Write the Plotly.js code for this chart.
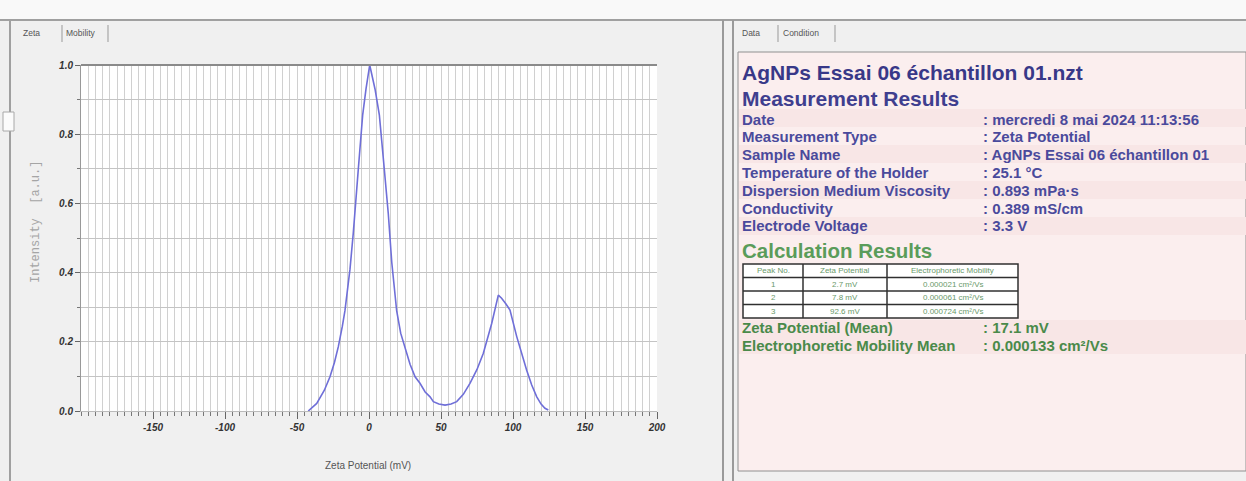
<!DOCTYPE html>
<html>
<head>
<meta charset="utf-8">
<script src="https://cdn.plot.ly/plotly-3.0.1.min.js"></script>
<style>html,body{margin:0;padding:0;background:#f0f0f0;}#chart{width:1246px;height:481px;}</style>
</head>
<body>
<div id="chart"></div>
<script>
// ---- Data ----
const zeta = [-42.2,-36.3,-31,-27.1,-24,-21.3,-18.5,-16.7,-13.2,-10.9,-7.4,-4.4,-2.1,0.5,4.2,7.2,10.6,13.4,15.8,19.2,22,25,28.5,32,35.4,39,42.4,44.7,48.5,52.8,57,60.9,65.5,70.1,75,79.4,85.2,89.8,92.1,95,97.9,102.6,106,109.5,113,116.5,119.5,122.2,124.5];
const intensity = [0.0,0.022,0.06,0.099,0.14,0.186,0.245,0.29,0.41,0.515,0.70,0.855,0.93,1.0,0.93,0.855,0.70,0.57,0.43,0.29,0.225,0.186,0.135,0.099,0.08,0.055,0.041,0.027,0.02,0.017,0.02,0.027,0.048,0.08,0.12,0.167,0.253,0.335,0.326,0.31,0.292,0.215,0.165,0.118,0.075,0.041,0.02,0.008,0.003];
const xTickVals = [-150,-100,-50,0,50,100,150,200];
const xTickText = ['-150','-100','-50','0','50','100','150','200'];
const yTickVals = [0,0.2,0.4,0.6,0.8,1.0];
const yTickText = ['0.0','0.2','0.4','0.6','0.8','1.0'];

const fileTitle = 'AgNPs Essai 06 échantillon 01.nzt';
const infoLabels = ['Date','Measurement Type','Sample Name','Temperature of the Holder','Dispersion Medium Viscosity','Conductivity','Electrode Voltage'];
const infoValues = ['mercredi 8 mai 2024 11:13:56','Zeta Potential','AgNPs Essai 06 échantillon 01','25.1 °C','0.893 mPa·s','0.389 mS/cm','3.3 V'];
const tableHeader = ['Peak No.','Zeta Potential','Electrophoretic Mobility'];
const peakNo = ['1','2','3'];
const peakZeta = ['2.7 mV','7.8 mV','92.6 mV'];
const peakMobility = ['0.000021 cm²/Vs','0.000061 cm²/Vs','0.000724 cm²/Vs'];
const meanLabels = ['Zeta Potential (Mean)','Electrophoretic Mobility Mean'];
const meanValues = ['17.1 mV','0.000133 cm²/Vs'];

// ---- Layout helpers (pixel -> paper) ----
const W = 1246, H = 481;
const px = x => x / W;
const py = y => 1 - y / H;

const shapes = [];
const ann = [];
function rect(x0,y0,x1,y1,fill,line,lw){shapes.push({type:'rect',xref:'paper',yref:'paper',x0:px(x0),x1:px(x1),y0:py(y1),y1:py(y0),fillcolor:fill,line:{color:line||fill,width:lw===undefined?0:lw},layer:'below'});}
function hline(x0,x1,y,c,w,layer){shapes.push({type:'line',xref:'paper',yref:'paper',x0:px(x0),x1:px(x1),y0:py(y),y1:py(y),line:{color:c,width:w},layer:layer||'below'});}
function vline(x,y0,y1,c,w,layer){shapes.push({type:'line',xref:'paper',yref:'paper',x0:px(x),x1:px(x),y0:py(y0),y1:py(y1),line:{color:c,width:w},layer:layer||'below'});}
function text(x,y,t,size,color,bold,anchor,family){ann.push({xref:'paper',yref:'paper',x:px(x),y:py(y),text:t,showarrow:false,xanchor:anchor||'left',yanchor:'middle',borderpad:0,font:{family:family||'Liberation Sans, Arial, sans-serif',size:size,color:color,weight:bold?'bold':'normal'}});}

// window chrome
rect(0,0,W,19,'#f9f9f9');
hline(0,W,20,'#a0a0a0',2);
vline(10,20,H,'#a0a0a0',2);
rect(3,112,14,131,'#fbfbfb','#a8a8a8',1);
// left tabs
text(22,33,'Zeta',8.5,'#555');
vline(62,25,42,'#999',1);
text(65,33,'Mobility',8.5,'#555');
vline(108,25,42,'#999',1);
// splitter
vline(723,20,H,'#9a9a9a',2);
vline(733,20,H,'#9a9a9a',2);
// right tabs
text(741,33,'Data',8.5,'#555');
vline(778,25,42,'#999',1);
text(782,33,'Condition',8.5,'#555');
vline(835,25,42,'#999',1);
// pink result box
rect(738,52,W,471,'#fbeeee','#909090',1);
const stripeYs=[109,145,181,217,320,336];
stripeYs.forEach(y=>rect(739,y,W,y+18,'#f8e6e6'));

// titles
text(741,73,fileTitle,21,'#383888',true);
text(741,98,'Measurement Results',21,'#3f3f8f',true);
// info rows
const rowY0 = 119, rowStep = 17.8;
infoLabels.forEach((l,i)=>{
  const y=rowY0+i*rowStep;
  text(741,y,l,15,'#4a4a9c',true);
  text(982,y,': '+infoValues[i],15,'#4a4a9c',true);
});
text(741,250,'Calculation Results',20.5,'#5a9c5a',true);

// results table
const tx=[743,803,887,1018], ty=[264,277.5,291,304.5,318];
rect(743,264,1018,318,'#ffffff','#303030',1.5);
for(let i=1;i<ty.length-1;i++) hline(743,1018,ty[i],'#303030',1.5);
for(let j=1;j<tx.length-1;j++) vline(tx[j],264,318,'#303030',1.5);
const cellRows=[tableHeader].concat(peakNo.map((p,i)=>[p,peakZeta[i],peakMobility[i]]));
cellRows.forEach((r,i)=>{
  r.forEach((c,j)=>{
    text((tx[j]+tx[j+1])/2,(ty[i]+ty[i+1])/2,c,8,'#6a9a6a',false,'center');
  });
});
// means
meanLabels.forEach((l,i)=>{
  const y=327+i*18;
  text(741,y,l,15,'#4a8a4a',true);
  text(982,y,': '+meanValues[i],15,'#4a8a4a',true);
});

// plot top border
shapes.push({type:'line',xref:'paper',yref:'paper',x0:px(81),x1:px(657),y0:py(65),y1:py(65),line:{color:'#8a8a8a',width:2},layer:'above'});

// axis titles
ann.push({xref:'paper',yref:'paper',x:px(36),y:py(222),text:'Intensity  [a.u.]',showarrow:false,textangle:-90,xanchor:'center',yanchor:'middle',font:{family:'Liberation Mono, monospace',size:12,color:'#a5a5a5'}});
text(368,465,'Zeta Potential (mV)',10,'#555',false,'center');

const tickFont={family:'Liberation Sans, Arial, sans-serif',size:10,color:'#333',weight:'bold',style:'italic'};

const trace={x:zeta,y:intensity,type:'scatter',mode:'lines',line:{color:'#6f6fd8',width:1.6},hoverinfo:'skip'};

const layout={
  width:W,height:H,margin:{l:0,r:0,t:0,b:0},
  paper_bgcolor:'#f0f0f0',plot_bgcolor:'#ffffff',
  showlegend:false,
  xaxis:{domain:[px(81),px(657)],range:[-200,200],tickmode:'array',tickvals:xTickVals,ticktext:xTickText,
    ticks:'outside',ticklen:7,tickcolor:'#666',tickwidth:1,tickfont:tickFont,
    showgrid:true,gridcolor:'#d0d0d0',gridwidth:1,zeroline:false,showline:true,linecolor:'#bbb',linewidth:1,
    minor:{dtick:5,tick0:0,showgrid:true,gridcolor:'#d0d0d0',gridwidth:1,ticks:'outside',ticklen:4,tickcolor:'#777'}},
  yaxis:{domain:[py(411),py(65)],range:[0,1],tickmode:'array',tickvals:yTickVals,ticktext:yTickText,
    ticks:'outside',ticklen:5,tickcolor:'#666',tickfont:tickFont,
    showgrid:true,gridcolor:'#c4c4c4',gridwidth:1,zeroline:false,showline:true,linecolor:'#999',linewidth:1,
    minor:{dtick:0.1,showgrid:true,gridcolor:'#c4c4c4',ticks:'outside',ticklen:3,tickcolor:'#777'}},
  shapes:shapes,annotations:ann
};
Plotly.newPlot('chart',[trace],layout,{displayModeBar:false,staticPlot:true});
</script>
</body>
</html>
